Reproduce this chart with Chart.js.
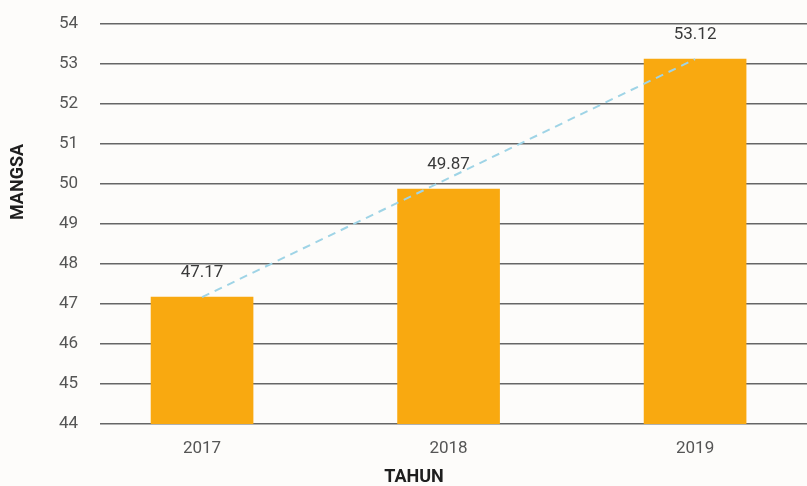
<!DOCTYPE html>
<html>
<head>
<meta charset="utf-8">
<script src="https://cdn.jsdelivr.net/npm/chart.js@4"></script>
<style>
  html, body { margin: 0; padding: 0; background: #fdfcfa; }
  #wrap { width: 807px; height: 486px; }
</style>
</head>
<body>
<div id="wrap"><canvas id="chart" width="807" height="486"></canvas></div>
<script>
const years = [2017, 2018, 2019];
const values = [47.17, 49.87, 53.12];
// garis tren (dua ujung)
const trendYears = [2017, 2019];
const trendValues = [47.17, 53.12];
const yTitle = "MANGSA";
const xTitle = "TAHUN";

const barColor = "#f9a910";

const labelPlugin = {
  id: "labels",
  afterDatasetsDraw(chart) {
    const ctx = chart.ctx;
    const meta = chart.getDatasetMeta(1);
    ctx.save();
    ctx.font = "17px Roboto";
    ctx.fillStyle = "#3a3a3a";
    ctx.textAlign = "center";
    ctx.textBaseline = "middle";
    meta.data.forEach((bar, i) => {
      ctx.fillText(values[i].toFixed(2), bar.x, bar.y - 24);
    });
    // judul sumbu
    ctx.font = "bold 18px Roboto";
    ctx.fillStyle = "#1e1e1e";
    ctx.fillText(xTitle, 414, 477);
    ctx.translate(18, 182);
    ctx.rotate(-Math.PI / 2);
    ctx.fillText(yTitle, 0, 0);
    ctx.restore();
  }
};

new Chart(document.getElementById("chart").getContext("2d"), {
  data: {
    datasets: [
      {
        type: "line",
        data: trendYears.map((x, i) => ({ x: x, y: trendValues[i] })),
        borderColor: "#9fd4e6",
        borderWidth: 2,
        borderDash: [8, 6],
        pointRadius: 0,
        order: 0
      },
      {
        type: "bar",
        data: years.map((x, i) => ({ x: x, y: values[i] })),
        backgroundColor: barColor,
        barThickness: 102,
        order: 1
      }
    ]
  },
  options: {
    responsive: false,
    animation: false,
    layout: { padding: { top: 24, left: 0, right: 0, bottom: 0 } },
    plugins: { legend: { display: false }, tooltip: { enabled: false } },
    scales: {
      x: {
        type: "linear",
        offset: false,
        min: 2016.586,
        max: 2019.454,
        afterBuildTicks: s => { s.ticks = s.ticks.filter(t => Number.isInteger(t.value)); },
        afterFit: s => { s.height = 62; },
        grid: { display: false, offset: false },
        border: { display: false },
        ticks: {
          stepSize: 1,
          includeBounds: false,
          autoSkip: false,
          maxRotation: 0,
          color: "#555",
          font: { family: "Roboto", size: 17 },
          padding: 7,
          callback: v => String(v)
        }
      },
      y: {
        min: 44,
        max: 54,
        afterFit: s => { s.width = 100; s.paddingTop = 0; s.paddingBottom = 0; },
        border: { display: false },
        grid: { color: "#666", lineWidth: 1.5, drawTicks: false },
        ticks: {
          stepSize: 1,
          color: "#555",
          font: { family: "Roboto", size: 17 },
          padding: 22
        }
      }
    }
  },
  plugins: [labelPlugin]
});
</script>
</body>
</html>
